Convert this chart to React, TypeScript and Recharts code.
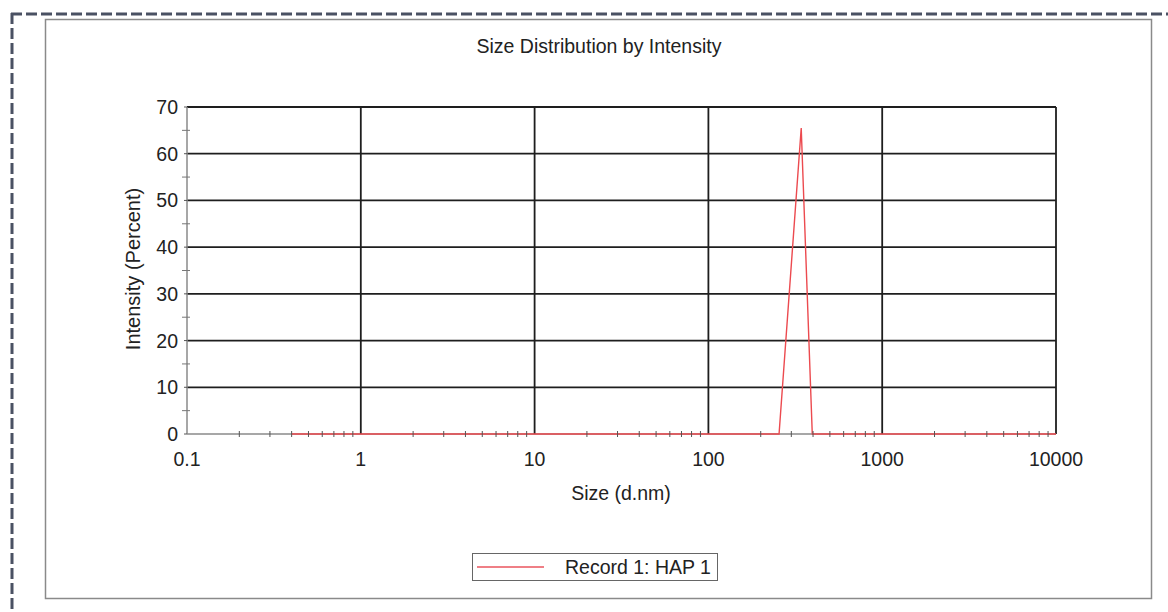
import { LineChart, Line, XAxis, YAxis, ReferenceLine } from 'recharts';

// ── Data ────────────────────────────────────────────────────────────────────
const sizes = [0.4, 255, 342, 396, 10000];
const intensity = [0, 0, 65.5, 0, 0];

const xMajor = [0.1, 1, 10, 100, 1000, 10000];
const xMinor = [
    0.2, 0.3, 0.4, 0.5, 0.6, 0.7, 0.8, 0.9,
    2, 3, 4, 5, 6, 7, 8, 9,
    20, 30, 40, 50, 60, 70, 80, 90,
    200, 300, 400, 500, 600, 700, 800, 900,
    2000, 3000, 4000, 5000, 6000, 7000, 8000, 9000,
];
const yMajor = [0, 10, 20, 30, 40, 50, 60, 70];
const yMinor = [5, 15, 25, 35, 45, 55, 65];

const DATA = sizes.map((s, i) => ({ size: s, value: intensity[i] }));

const FONT = '"Liberation Sans", Arial, sans-serif';
const TEXT = '#222';
const RED = '#ec4a4f';

const XTick = ({ x, y, payload }: any) => {
    const v = payload.value;
    if (xMajor.includes(v)) {
        return (
            <text x={x} y={y + 32} textAnchor="middle" fontSize={19.5} fill={TEXT} fontFamily={FONT}>
                {String(v)}
            </text>
        );
    }
    return <line x1={x} x2={x} y1={y - 3} y2={y + 3} stroke="#555" strokeWidth={1} />;
};

const YTick = ({ x, y, payload }: any) => {
    const v = payload.value;
    if (yMajor.includes(v)) {
        return (
            <g>
                <line x1={x - 3} x2={x} y1={y} y2={y} stroke="#555" />
                <text x={x - 9} y={y + 7} textAnchor="end" fontSize={19.5} fill={TEXT} fontFamily={FONT}>
                    {v}
                </text>
            </g>
        );
    }
    return <line x1={x - 5} x2={x + 3} y1={y} y2={y} stroke="#777" strokeWidth={1} />;
};

export default function App() {
    return (
        <div style={{ position: 'absolute', left: 0, top: 0, width: 1168, height: 612, background: '#fff', fontFamily: FONT }}>
            {/* dashed frame */}
            <svg width={1168} height={612} style={{ position: 'absolute', left: 0, top: 0 }}>
                <line x1={11} x2={1168} y1={14} y2={14} stroke="#4a5163" strokeWidth={3} strokeDasharray="11 4" />
                <line x1={12} x2={12} y1={13} y2={612} stroke="#4a5163" strokeWidth={3} strokeDasharray="11 4" />
                <rect x={45.5} y={19.5} width={1106} height={579} fill="none" stroke="#8a8a8a" strokeWidth={1.5} />
            </svg>

            {/* Title */}
            <div style={{ position: 'absolute', left: 0, width: 1198, top: 35, textAlign: 'center', fontSize: 19.5, color: TEXT }}>
                Size Distribution by Intensity
            </div>

            <div style={{ position: 'absolute', left: 0, top: 0 }}>
                <LineChart width={1168} height={612} data={DATA} margin={{ top: 107, right: 112, left: 127, bottom: 138 }}>
                    <XAxis
                        dataKey="size"
                        type="number"
                        scale="log"
                        domain={[0.1, 10000]}
                        ticks={[...xMajor, ...xMinor]}
                        interval={0}
                        allowDataOverflow
                        height={40}
                        tickSize={0}
                        tickMargin={0}
                        tickLine={false}
                        axisLine={false}
                        tick={<XTick />}
                    />
                    <YAxis
                        type="number"
                        domain={[0, 70]}
                        ticks={[...yMajor, ...yMinor]}
                        interval={0}
                        width={60}
                        tickSize={0}
                        tickMargin={0}
                        tickLine={false}
                        axisLine={{ stroke: '#8a8a8a', strokeWidth: 1.5 }}
                        tick={<YTick />}
                    />
                    <ReferenceLine y={0} stroke="#8a8a8a" strokeWidth={1.5} />
                    {yMajor.filter((v) => v > 0).map((v) => (
                        <ReferenceLine key={`h${v}`} y={v} stroke="#1e1e1e" strokeWidth={1.8} />
                    ))}
                    {xMajor.filter((v) => v > 0.1).map((v) => (
                        <ReferenceLine key={`v${v}`} x={v} stroke="#1e1e1e" strokeWidth={1.8} />
                    ))}
                    <Line
                        type="linear"
                        dataKey="value"
                        stroke={RED}
                        strokeWidth={1.4}
                        dot={false}
                        activeDot={false}
                        isAnimationActive={false}
                    />
                </LineChart>
            </div>

            {/* Axis titles */}
            <div
                style={{
                    position: 'absolute', left: 133, top: 269, fontSize: 20, color: TEXT, whiteSpace: 'nowrap',
                    transform: 'translate(-50%, -50%) rotate(-90deg)',
                }}
            >
                Intensity (Percent)
            </div>
            <div style={{ position: 'absolute', left: 0, width: 1242, top: 482, textAlign: 'center', fontSize: 19.5, color: TEXT }}>
                Size (d.nm)
            </div>

            {/* Legend */}
            <div
                style={{
                    position: 'absolute', left: 472, top: 553, width: 244, height: 26, border: '1px solid #666',
                    display: 'flex', alignItems: 'center',
                }}
            >
                <span style={{ display: 'inline-block', width: 67, height: 2, marginLeft: 4, background: '#ef7f86' }} />
                <span style={{ marginLeft: 21, fontSize: 19.5, color: TEXT, whiteSpace: 'nowrap' }}>Record 1: HAP 1</span>
            </div>
        </div>
    );
}
